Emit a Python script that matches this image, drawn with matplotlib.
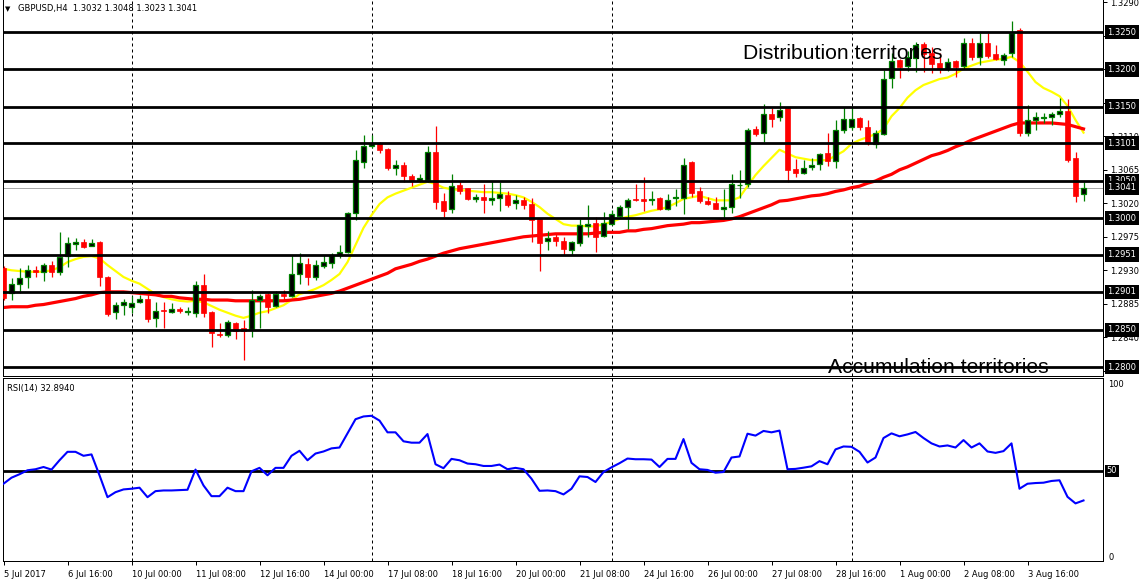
import numpy as np
import matplotlib
matplotlib.use("Agg")
import matplotlib.pyplot as plt

plt.rcParams['font.family'] = ['DejaVu Sans']

# ---------------- data ----------------
x_labels = ["5 Jul 2017", "6 Jul 16:00", "10 Jul 00:00", "11 Jul 08:00", "12 Jul 16:00",
            "14 Jul 00:00", "17 Jul 08:00", "18 Jul 16:00", "20 Jul 00:00", "21 Jul 08:00",
            "24 Jul 16:00", "26 Jul 00:00", "27 Jul 08:00", "28 Jul 16:00", "1 Aug 00:00",
            "2 Aug 08:00", "3 Aug 16:00"]
x_label_bars = [0, 8, 16, 24, 32, 40, 48, 56, 64, 72, 80, 88, 96, 104, 112, 120, 128]
week_sep_bars = [16, 46, 76, 106]

opens = [1.2933, 1.2900, 1.2911, 1.2921, 1.2930, 1.2928, 1.2937, 1.2928, 1.2949, 1.2965,
         1.2968, 1.2963, 1.2968, 1.2921, 1.2874, 1.2883, 1.2880, 1.2888, 1.2892, 1.2866,
         1.2877, 1.2874, 1.2878, 1.2874, 1.2873, 1.2910, 1.2874, 1.2845, 1.2843, 1.2859,
         1.2852, 1.2851, 1.2890, 1.2898, 1.2882, 1.2898, 1.2896, 1.2925, 1.2939, 1.2921,
         1.2936, 1.2940, 1.2950, 1.2955, 1.3007, 1.3076, 1.3097, 1.3101, 1.3093, 1.3067,
         1.3072, 1.3057, 1.3052, 1.3051, 1.3089, 1.3023, 1.3012, 1.3044, 1.3040, 1.3026,
         1.3028, 1.3025, 1.3027, 1.3031, 1.3020, 1.3024, 1.3019, 1.2999, 1.2969, 1.2975,
         1.2969, 1.2957, 1.2967, 1.2990, 1.2993, 1.2976, 1.2992, 1.3003, 1.3015, 1.3026,
         1.3026, 1.3024, 1.3027, 1.3013, 1.3027, 1.3027, 1.3075, 1.3037, 1.3023, 1.3020,
         1.3013, 1.3015, 1.3044, 1.3046, 1.3120, 1.3114, 1.3140, 1.3136, 1.3148, 1.3066,
         1.3061, 1.3069, 1.3073, 1.3088, 1.3077, 1.3118, 1.3122, 1.3135, 1.3122, 1.3100,
         1.3113, 1.3188, 1.3213, 1.3205, 1.3215, 1.3234, 1.3222, 1.3208, 1.3201, 1.3211,
         1.3205, 1.3236, 1.3217, 1.3236, 1.3221, 1.3213, 1.3222, 1.3253, 1.3114, 1.3132,
         1.3134, 1.3136, 1.3140, 1.3144, 1.3081, 1.3032]
highs = [1.2936, 1.2920, 1.2933, 1.2937, 1.2936, 1.2940, 1.2942, 1.2981, 1.2975, 1.2974,
         1.2972, 1.2972, 1.2970, 1.2922, 1.2888, 1.2891, 1.2895, 1.2897, 1.2899, 1.2888,
         1.2888, 1.2886, 1.2880, 1.2880, 1.2916, 1.2925, 1.2875, 1.2859, 1.2863, 1.2860,
         1.2863, 1.2904, 1.2898, 1.2899, 1.2902, 1.2903, 1.2950, 1.2953, 1.2946, 1.2944,
         1.2951, 1.2953, 1.2964, 1.3009, 1.3091, 1.3112, 1.3112, 1.3102, 1.3095, 1.3078,
         1.3076, 1.3059, 1.3059, 1.3097, 1.3124, 1.3034, 1.3059, 1.3050, 1.3041, 1.3033,
         1.3046, 1.3050, 1.3048, 1.3037, 1.3031, 1.3028, 1.3027, 1.3000, 1.2983, 1.2980,
         1.2975, 1.2969, 1.2999, 1.3018, 1.3001, 1.3008, 1.3011, 1.3018, 1.3027, 1.3046,
         1.3055, 1.3036, 1.3028, 1.3033, 1.3039, 1.3081, 1.3077, 1.3042, 1.3029, 1.3029,
         1.3039, 1.3059, 1.3065, 1.3121, 1.3124, 1.3154, 1.3148, 1.3156, 1.3149, 1.3080,
         1.3078, 1.3081, 1.3087, 1.3115, 1.3132, 1.3149, 1.3149, 1.3136, 1.3132, 1.3119,
         1.3199, 1.3222, 1.3214, 1.3225, 1.3237, 1.3237, 1.3230, 1.3222, 1.3215, 1.3212,
         1.3242, 1.3242, 1.3249, 1.3249, 1.3233, 1.3222, 1.3265, 1.3255, 1.3152, 1.3143,
         1.3142, 1.3143, 1.3162, 1.3160, 1.3089, 1.3048]
lows = [1.2890, 1.2890, 1.2900, 1.2906, 1.2921, 1.2916, 1.2921, 1.2924, 1.2935, 1.2957,
        1.2960, 1.2962, 1.2909, 1.2868, 1.2864, 1.2870, 1.2872, 1.2886, 1.2861, 1.2854,
        1.2852, 1.2872, 1.2872, 1.2870, 1.2867, 1.2867, 1.2827, 1.2840, 1.2841, 1.2838,
        1.2809, 1.2841, 1.2852, 1.2873, 1.2880, 1.2890, 1.2894, 1.2912, 1.2910, 1.2917,
        1.2933, 1.2933, 1.2946, 1.2953, 1.2997, 1.3068, 1.3094, 1.3088, 1.3065, 1.3058,
        1.3049, 1.3043, 1.3048, 1.3049, 1.3013, 1.3002, 1.3007, 1.3033, 1.3025, 1.3022,
        1.3007, 1.3018, 1.3010, 1.3015, 1.3013, 1.3012, 1.2968, 1.2929, 1.2957, 1.2963,
        1.2951, 1.2951, 1.2962, 1.2975, 1.2955, 1.2975, 1.2991, 1.3000, 1.2986, 1.3023,
        1.3010, 1.3018, 1.3011, 1.3011, 1.3016, 1.3006, 1.3029, 1.3020, 1.3018, 1.3012,
        1.2999, 1.3007, 1.3027, 1.3042, 1.3110, 1.3103, 1.3122, 1.3131, 1.3049, 1.3056,
        1.3059, 1.3065, 1.3065, 1.3070, 1.3068, 1.3115, 1.3119, 1.3118, 1.3098, 1.3094,
        1.3112, 1.3175, 1.3188, 1.3198, 1.3197, 1.3196, 1.3195, 1.3195, 1.3198, 1.3190,
        1.3201, 1.3212, 1.3206, 1.3215, 1.3212, 1.3206, 1.3217, 1.3110, 1.3110, 1.3119,
        1.3128, 1.3125, 1.3136, 1.3076, 1.3022, 1.3023]
closes = [1.2893, 1.2912, 1.2919, 1.2931, 1.2928, 1.2937, 1.2928, 1.2948, 1.2966, 1.2968,
          1.2961, 1.2967, 1.2921, 1.2871, 1.2884, 1.2888, 1.2886, 1.2891, 1.2865, 1.2875,
          1.2875, 1.2878, 1.2875, 1.2875, 1.2910, 1.2873, 1.2846, 1.2843, 1.2860, 1.2849,
          1.2849, 1.2890, 1.2896, 1.2880, 1.2898, 1.2895, 1.2925, 1.2940, 1.2921, 1.2937,
          1.2941, 1.2951, 1.2955, 1.3007, 1.3078, 1.3097, 1.3100, 1.3092, 1.3067, 1.3072,
          1.3057, 1.3051, 1.3054, 1.3089, 1.3022, 1.3010, 1.3043, 1.3037, 1.3026, 1.3028,
          1.3024, 1.3027, 1.3032, 1.3018, 1.3024, 1.3018, 1.2997, 1.2967, 1.2974, 1.2970,
          1.2958, 1.2968, 1.2991, 1.2992, 1.2975, 1.2993, 1.3005, 1.3015, 1.3024, 1.3024,
          1.3023, 1.3026, 1.3012, 1.3025, 1.3028, 1.3072, 1.3034, 1.3023, 1.3019, 1.3013,
          1.3015, 1.3046, 1.3045, 1.3119, 1.3113, 1.3140, 1.3133, 1.3145, 1.3065, 1.3061,
          1.3068, 1.3071, 1.3086, 1.3077, 1.3119, 1.3133, 1.3133, 1.3123, 1.3101, 1.3114,
          1.3187, 1.3211, 1.3203, 1.3216, 1.3233, 1.3221, 1.3207, 1.3200, 1.3210, 1.3203,
          1.3235, 1.3216, 1.3235, 1.3218, 1.3214, 1.3220, 1.3249, 1.3115, 1.3132, 1.3136,
          1.3136, 1.3140, 1.3144, 1.3078, 1.3030, 1.3041]

ma_fast = [1.2932, 1.2930, 1.2929, 1.2928, 1.2928, 1.2928, 1.2930, 1.2934, 1.2941, 1.2945,
           1.2948, 1.2949, 1.2946, 1.2937, 1.2929, 1.2921, 1.2916, 1.2912, 1.2905, 1.2898,
           1.2894, 1.2891, 1.2889, 1.2888, 1.2889, 1.2887, 1.2882, 1.2877, 1.2873, 1.2869,
           1.2866, 1.2869, 1.2873, 1.2875, 1.2879, 1.2883, 1.2890, 1.2898, 1.2901, 1.2905,
           1.2910, 1.2917, 1.2925, 1.2941, 1.2964, 1.2987, 1.3004, 1.3019, 1.3028, 1.3033,
           1.3037, 1.3041, 1.3045, 1.3049, 1.3046, 1.3041, 1.3039, 1.3038, 1.3037, 1.3036,
           1.3035, 1.3035, 1.3034, 1.3033, 1.3031, 1.3028, 1.3022, 1.3015, 1.3006, 1.2999,
           1.2992, 1.2990, 1.2990, 1.2989, 1.2989, 1.2992, 1.2995, 1.2999, 1.3002, 1.3004,
           1.3007, 1.3010, 1.3012, 1.3015, 1.3020, 1.3026, 1.3028, 1.3030, 1.3027, 1.3024,
           1.3024, 1.3024, 1.3028, 1.3043, 1.3058, 1.3070, 1.3081, 1.3092, 1.3087, 1.3082,
           1.3080, 1.3078, 1.3078, 1.3078, 1.3084, 1.3090, 1.3100, 1.3105, 1.3109, 1.3113,
           1.3120, 1.3137, 1.3148, 1.3162, 1.3172, 1.3179, 1.3183, 1.3187, 1.3189, 1.3194,
           1.3201, 1.3205, 1.3209, 1.3211, 1.3213, 1.3214, 1.3217, 1.3210, 1.3197, 1.3183,
           1.3175, 1.3170, 1.3164, 1.3151, 1.3132, 1.3115]
ma_slow = [1.2880, 1.2881, 1.2881, 1.2881, 1.2883, 1.2884, 1.2886, 1.2888, 1.2890, 1.2892,
           1.2895, 1.2897, 1.2900, 1.2901, 1.2901, 1.2901, 1.2900, 1.2899, 1.2898, 1.2897,
           1.2895, 1.2895, 1.2893, 1.2892, 1.2891, 1.2891, 1.2890, 1.2890, 1.2890, 1.2889,
           1.2889, 1.2889, 1.2889, 1.2889, 1.2889, 1.2889, 1.2890, 1.2891, 1.2893, 1.2895,
           1.2897, 1.2899, 1.2902, 1.2906, 1.2910, 1.2914, 1.2918, 1.2922, 1.2926, 1.2932,
           1.2935, 1.2938, 1.2942, 1.2945, 1.2949, 1.2953, 1.2956, 1.2959, 1.2961, 1.2963,
           1.2965, 1.2967, 1.2969, 1.2971, 1.2973, 1.2975, 1.2976, 1.2977, 1.2978, 1.2979,
           1.2979, 1.2979, 1.2979, 1.2979, 1.2980, 1.2981, 1.2981, 1.2981, 1.2983, 1.2983,
           1.2985, 1.2986, 1.2988, 1.2990, 1.2991, 1.2992, 1.2994, 1.2994, 1.2995, 1.2996,
           1.2997, 1.2999, 1.3002, 1.3006, 1.3010, 1.3014, 1.3018, 1.3023, 1.3024, 1.3026,
           1.3028, 1.3030, 1.3031, 1.3033, 1.3036, 1.3038, 1.3041, 1.3043, 1.3047, 1.3050,
           1.3055, 1.3059, 1.3065, 1.3069, 1.3074, 1.3079, 1.3084, 1.3087, 1.3091, 1.3096,
           1.3100, 1.3105, 1.3109, 1.3113, 1.3117, 1.3121, 1.3125, 1.3128, 1.3128, 1.3128,
           1.3128, 1.3128, 1.3127, 1.3126, 1.3123, 1.3120]
rsi = [42.6, 46.1, 48.1, 50.4, 51.0, 52.3, 50.8, 56.2, 61.1, 61.1,
       58.8, 59.6, 47.5, 34.8, 37.7, 39.3, 39.7, 40.3, 34.8, 38.3,
       38.7, 38.7, 38.9, 39.1, 50.8, 41.6, 35.4, 35.4, 40.3, 38.3,
       38.3, 49.8, 51.8, 47.5, 51.8, 51.8, 58.8, 61.7, 56.2, 60.1,
       61.3, 63.1, 63.6, 71.8, 80.0, 81.6, 82.0, 79.2, 72.4, 72.4,
       67.2, 66.4, 66.4, 71.4, 53.9, 51.6, 57.0, 56.2, 54.3, 53.9,
       52.9, 52.9, 53.7, 51.0, 51.8, 51.0, 45.5, 38.5, 38.7, 38.3,
       36.4, 39.7, 46.9, 46.5, 43.6, 49.4, 52.1, 54.5, 57.2, 56.8,
       56.8, 56.6, 52.3, 57.0, 57.0, 68.5, 54.7, 51.0, 50.6, 49.0,
       49.4, 57.8, 58.4, 71.6, 70.5, 73.2, 72.4, 73.4, 51.0, 51.2,
       51.9, 52.7, 55.7, 53.9, 62.5, 64.2, 64.0, 61.1, 54.9, 57.8,
       69.1, 71.8, 70.1, 71.2, 72.6, 69.1, 66.0, 64.2, 64.8, 63.6,
       67.9, 63.6, 66.0, 61.3, 60.5, 61.5, 66.0, 39.7, 42.6, 43.0,
       43.2, 44.2, 44.6, 35.0, 31.2, 32.9]

levels = [1.3250, 1.3200, 1.3150, 1.3101, 1.3050, 1.3000, 1.2951, 1.2901, 1.2850, 1.2800]
bid_price = 1.3041
price_ticks = [1.3290, 1.3245, 1.3200, 1.3155, 1.3110, 1.3065, 1.3020, 1.2975,
               1.2930, 1.2885, 1.2840, 1.2795]
hidden_ticks = [1.3200, 1.3155]
title_text = "GBPUSD,H4  1.3032 1.3048 1.3023 1.3041"
rsi_text = "RSI(14) 32.8940"

# ---------------- figure ----------------
W, H = 1143, 585
fig = plt.figure(figsize=(W / 100, H / 100), dpi=100)
fig.patch.set_facecolor('white')

left_px, right_px = 2.5, 1103
main_top, main_bot = 0, 376
rsi_top, rsi_bot = 378, 561

ax = fig.add_axes([left_px / W, 1 - main_bot / H, (right_px - left_px) / W, (main_bot - main_top) / H])
ax2 = fig.add_axes([left_px / W, 1 - rsi_bot / H, (right_px - left_px) / W, (rsi_bot - rsi_top) / H])

n = len(opens)
xs = np.arange(n)
O = np.array(opens); Hh = np.array(highs); L = np.array(lows); C = np.array(closes)
xlim = ((left_px - 3.5) / 8.0, (right_px - 3.5) / 8.0)

GREEN = '#008000'
px = 0.72  # one pixel in points

# separators
for a in (ax, ax2):
    for b in week_sep_bars:
        a.axvline(b, color='black', lw=px, ls=(0, (3, 3)), zorder=0.5)

# bid line
ax.axhline(bid_price, color='#a8a8a8', lw=px, zorder=1)

# moving averages
ax.plot(xs, ma_fast, color='#ffff00', lw=1.6, zorder=2)
ax.plot(xs, ma_slow, color='#ff0000', lw=2.3, zorder=2)

# candles
up = C >= O
dn = ~up
ax.vlines(xs[up], L[up], Hh[up], colors=GREEN, lw=0.9, zorder=3)
ax.vlines(xs[dn], L[dn], Hh[dn], colors='red', lw=0.9, zorder=3)
ax.bar(xs[up], C[up] - O[up], bottom=O[up], width=0.62, color='black',
       edgecolor=GREEN, linewidth=0.9, zorder=3.5)
ax.bar(xs[dn], O[dn] - C[dn], bottom=C[dn], width=0.7, color='red',
       edgecolor='red', linewidth=0.5, zorder=3.5)

# horizontal levels
for lv in levels:
    ax.axhline(lv, color='black', lw=2.0, zorder=4)

# texts
ax.text(92.4, 1.32140, "Distribution territories", family='Liberation Sans',
        fontsize=15.2, va='baseline', ha='left', color='black', zorder=6)
ax.text(103.0, 1.27920, "Accumulation territories", family='Liberation Sans',
        fontsize=15.2, va='baseline', ha='left', color='black', zorder=6)

ax.set_xlim(*xlim)
ax.set_ylim(1.278792, 1.329326)
ax.yaxis.tick_right()
ax.set_yticks(price_ticks)
ax.set_yticklabels(["" if v in hidden_ticks else f"{v:.4f}" for v in price_ticks])
ax.tick_params(axis='y', direction='out', length=3, width=px, pad=1.8, labelsize=6, colors='black')
ax.tick_params(axis='x', bottom=False, labelbottom=False)
ax.spines['top'].set_visible(False)
for s in ('left', 'right', 'bottom'):
    ax.spines[s].set_linewidth(px)

for lv in levels + [bid_price]:
    ax.annotate(f"{lv:.4f}", xy=(1.0, lv), xycoords=('axes fraction', 'data'),
                xytext=(3.0, 0), textcoords='offset points', ha='left', va='center',
                fontsize=6, color='white', annotation_clip=False, zorder=10,
                bbox=dict(boxstyle='square,pad=0.32', fc='black', ec='none'))

# RSI
ax2.plot(xs, rsi, color='#0000ff', lw=1.5, zorder=3)
ax2.axhline(50, color='black', lw=2.0, zorder=2)
ax2.set_xlim(*xlim)
ax2.set_ylim(-2.2, 103.9)
ax2.yaxis.tick_right()
ax2.set_yticks([0, 100])
ax2.set_yticklabels(["0", "100"])
ax2.tick_params(axis='y', length=0, pad=4, labelsize=6)
ax2.set_xticks(x_label_bars)
ax2.set_xticklabels(x_labels, ha='left')
ax2.tick_params(axis='x', direction='out', length=3, width=px, pad=3.5, labelsize=6)
for lbl in ax2.get_yticklabels():
    lbl.set_va('center')
for s in ax2.spines.values():
    s.set_linewidth(px)
ax2.annotate("50", xy=(1.0, 50), xycoords=('axes fraction', 'data'),
             xytext=(2.4, 0), textcoords='offset points', ha='left', va='center',
             fontsize=6, color='white', annotation_clip=False, zorder=10,
             bbox=dict(boxstyle='square,pad=0.22', fc='black', ec='none'))
ax2.text(0.004, 0.965, rsi_text, transform=ax2.transAxes, fontsize=6,
         va='top', ha='left', color='black')

# title
fig.text(5 / W, 1 - 9 / H, "\u25bc", fontsize=5, va='center', ha='left', color='black')
fig.text(18 / W, 1 - 9 / H, title_text, fontsize=6, va='center', ha='left', color='black')

fig.savefig("out.png", dpi=100, facecolor='white')
